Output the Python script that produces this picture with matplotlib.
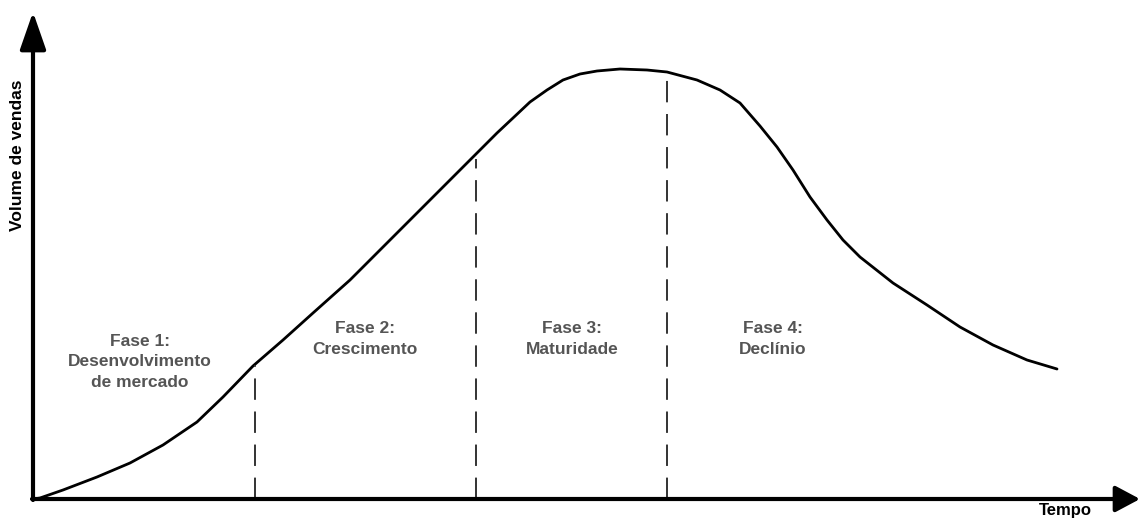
import matplotlib.pyplot as plt

# curve: time (px from origin) vs sales volume (px above axis)
tempo = [0, 7, 30, 64, 97, 130, 164, 190, 220, 250, 280, 317, 367, 417,
         447, 464, 480, 497, 514, 530, 547, 564, 587, 614, 634, 664, 687,
         707, 727, 744, 760, 777, 794, 810, 827, 860, 894, 927, 960, 994,
         1024]
volume = [0, 1, 9, 22, 36, 54, 77, 102, 133, 159, 186, 219, 269, 319,
          349, 366, 381, 397, 409, 419, 425, 428, 430, 429, 427, 419, 409,
          396, 373, 352, 329, 302, 279, 259, 242, 216, 194, 172, 154, 139,
          130]

fases_x = [222, 443, 634]
fases_topo = [134, 340, 426]
rotulos = ['Fase 1:\nDesenvolvimento\nde mercado', 'Fase 2:\nCrescimento',
           'Fase 3:\nMaturidade', 'Fase 4:\nDeclínio']
rotulos_x = [107, 332, 539, 740]
rotulos_y = [137, 160, 160, 160]

fig = plt.figure(figsize=(11.42, 5.19), dpi=100)
ax = fig.add_axes([0, 0, 1, 1])
ax.set_xlim(-33, 1109)
ax.set_ylim(-20, 499)
ax.axis('off')

ax.plot(tempo, volume, color='black', lw=2.0, solid_joinstyle='round',
        solid_capstyle='round')

for fx, top in zip(fases_x, fases_topo):
    ax.plot([fx, fx], [0, top], color='#333333', lw=1.4, dashes=(11, 6))

for txt, x, y in zip(rotulos, rotulos_x, rotulos_y):
    ax.text(x, y, txt, ha='center', va='center', fontsize=12.5,
            fontweight='bold', color='#555555', family='Liberation Sans',
            linespacing=1.45)

# axes with arrowheads
ax.annotate('', xy=(1107, 0), xytext=(-1, 0),
            arrowprops=dict(arrowstyle='-|>,head_length=1.5,head_width=0.8',
                            lw=3.0, color='black', shrinkA=0, shrinkB=0))
ax.annotate('', xy=(0, 487), xytext=(0, -1),
            arrowprops=dict(arrowstyle='-|>,head_length=2.3,head_width=0.8',
                            lw=3.0, color='black', shrinkA=0, shrinkB=0))

ax.text(-15, 344, 'Volume de vendas', rotation=90, ha='center', va='center',
        fontsize=12.5, fontweight='bold', family='Liberation Sans')
ax.text(1032, -19.5, 'Tempo', ha='center', va='bottom', fontsize=12,
        fontweight='bold', family='Liberation Sans')

fig.savefig('out.png', dpi=100)
